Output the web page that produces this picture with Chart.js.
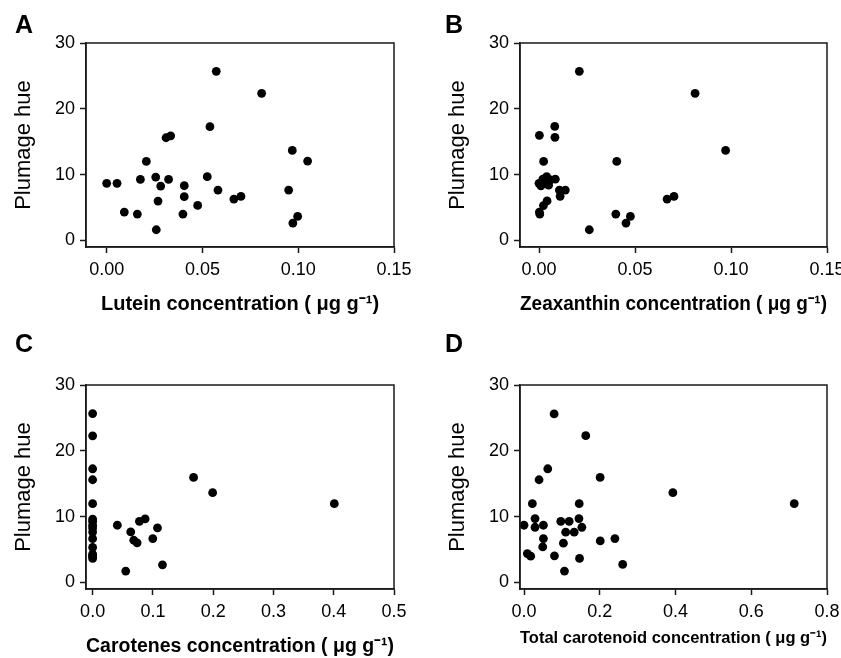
<!DOCTYPE html>
<html>
<head>
<meta charset="utf-8">
<script src="https://cdn.jsdelivr.net/npm/chart.js@4.4.0/dist/chart.umd.min.js"></script>
<style>
  body { margin: 0; background: #fff; width: 841px; height: 658px; position: relative; overflow: hidden; }
  canvas { position: absolute; }
</style>
</head>
<body>
<canvas id="cA" width="434" height="316" style="left:0;top:0"></canvas>
<canvas id="cB" width="407" height="316" style="left:434px;top:0"></canvas>
<canvas id="cC" width="434" height="338" style="left:0;top:320px"></canvas>
<canvas id="cD" width="407" height="338" style="left:434px;top:320px"></canvas>
<script>
// === Data ===
const hueTicks = [0, 10, 20, 30];
const ticksAB = [0, 0.05, 0.10, 0.15];
const ticksC = [0, 0.1, 0.2, 0.3, 0.4, 0.5];
const ticksD = [0, 0.2, 0.4, 0.6, 0.8];

const lutein = [0.000, 0.0054, 0.0092, 0.0160, 0.0176, 0.0207, 0.0256, 0.0259, 0.0268, 0.0282,
  0.0310, 0.0334, 0.0323, 0.0405, 0.0405, 0.0398, 0.0475, 0.0525, 0.0539, 0.0572,
  0.0581, 0.0664, 0.0701, 0.0809, 0.0950, 0.0969, 0.0972, 0.0997, 0.1049];
const hueA = [8.67, 8.67, 4.31, 4.0, 9.27, 12.0, 9.63, 1.62, 5.98, 8.26,
  15.6, 15.9, 9.27, 8.31, 6.64, 4.0, 5.32, 9.68, 17.28, 25.7,
  7.65, 6.28, 6.69, 22.35, 7.65, 13.68, 2.64, 3.65, 12.06];

const zeaxanthin = [0.021, 0.0813, 0.0002, 0.0082, 0.0083, 0.0024, 0.0972, 0.0405, 0.000, 0.001,
  0.002, 0.004, 0.005, 0.003, 0.006, 0.0085, 0.0106, 0.0137, 0.011, 0.0042,
  0.0023, 0.0002, 0.0004, 0.0262, 0.040, 0.0453, 0.0476, 0.0667, 0.0703];
const hueB = [25.7, 22.35, 15.97, 17.33, 15.66, 12.0, 13.68, 12.0, 8.67, 8.3,
  9.3, 9.7, 8.4, 8.9, 9.2, 9.3, 7.65, 7.65, 6.7, 6.0,
  5.3, 4.3, 4.0, 1.62, 4.0, 2.64, 3.65, 6.28, 6.69];

const carotenes = [0, 0, 0, 0, 0, 0, 0, 0, 0, 0, 0, 0, 0, 0, 0, 0,
  0.041, 0.0632, 0.0682, 0.0738, 0.0776, 0.0871, 0.0998, 0.1076, 0.0549, 0.1159,
  0.1675, 0.1991, 0.401];
const hueC = [25.66, 22.27, 17.27, 15.6, 11.97, 9.63, 9.27, 8.67, 8.26, 7.65, 6.64, 5.32, 4.31, 4.0, 4.0, 3.65,
  8.69, 7.68, 6.41, 6.01, 9.29, 9.65, 6.67, 8.28, 1.72, 2.68,
  15.96, 13.64, 11.97];

const totalCarot = [0.0795, 0.163, 0.0627, 0.0397, 0.201, 0.393, 0.022, 0.1457, 0.0291, 0.0,
  0.0291, 0.0512, 0.0512, 0.0494, 0.0088, 0.0177, 0.0804, 0.0971, 0.1192, 0.110,
  0.1325, 0.104, 0.145, 0.1528, 0.1068, 0.1466, 0.2013, 0.240, 0.2605, 0.7135];
const hueD = [25.6, 22.3, 17.27, 15.6, 15.96, 13.64, 11.97, 11.97, 9.7, 8.69,
  8.38, 8.69, 6.67, 5.4, 4.39, 3.99, 4.04, 9.29, 9.29, 7.63,
  7.63, 5.96, 9.7, 8.38, 1.72, 3.64, 6.31, 6.67, 2.73, 11.97];

const FONT = "'Liberation Sans', Arial, Helvetica, sans-serif";
const INK = '#1a1a1a';

// box around the plot area + panel letter
const framePlugin = {
  id: 'frame',
  afterDraw(chart, args, opts) {
    const { ctx, chartArea: a } = chart;
    ctx.save();
    ctx.strokeStyle = INK;
    ctx.lineWidth = 1.5;
    ctx.strokeRect(a.left, a.top, a.right - a.left, a.bottom - a.top);
    ctx.fillStyle = '#000';
    ctx.font = 'bold 25px ' + FONT;
    ctx.textBaseline = 'alphabetic';
    ctx.fillText(opts.letter, opts.lx, opts.ly);
    ctx.restore();
  }
};

function makePanel(cfg) {
  const points = cfg.xs.map((x, i) => ({ x: x, y: cfg.ys[i] }));
  return new Chart(document.getElementById(cfg.id), {
    type: 'scatter',
    data: {
      datasets: [{
        data: points,
        backgroundColor: '#000',
        borderColor: '#000',
        borderWidth: 0,
        pointRadius: 4.4,
        pointHoverRadius: 4.4
      }]
    },
    options: {
      responsive: false,
      animation: false,
      events: [],
      layout: { padding: { top: cfg.padTop, right: cfg.padRight, left: 0, bottom: 0 } },
      plugins: {
        legend: { display: false },
        tooltip: { enabled: false },
        frame: { letter: cfg.letter, lx: cfg.lx, ly: cfg.ly }
      },
      scales: {
        x: {
          type: 'linear',
          min: cfg.xMin,
          max: cfg.xMax,
          afterBuildTicks: s => { s.ticks = cfg.xTicks.map(v => ({ value: v })); },
          afterFit: s => { s.height = 69; s.paddingLeft = 0; s.paddingRight = 0; },
          ticks: {
            autoSkip: false, maxRotation: 0,
            callback: v => Number(v).toFixed(cfg.dec),
            font: { size: 18, family: FONT }, color: '#000', padding: 6
          },
          grid: { drawOnChartArea: false, drawTicks: true, tickLength: 6, tickWidth: 1.5, tickColor: INK },
          border: { display: true, color: INK, width: 1.5 },
          title: {
            display: true, text: cfg.title, color: '#000',
            font: { size: cfg.titleSize, weight: 'bold', family: FONT },
            padding: { top: 0, bottom: cfg.titlePad }
          }
        },
        y: {
          type: 'linear',
          min: -1,
          max: 30,
          afterBuildTicks: s => { s.ticks = hueTicks.map(v => ({ value: v })); },
          afterFit: s => { s.width = 86; },
          ticks: { font: { size: 18, family: FONT }, color: '#000', padding: 5 },
          grid: { drawOnChartArea: false, drawTicks: true, tickLength: 6, tickWidth: 1.5, tickColor: INK },
          border: { display: true, color: INK, width: 1.5 },
          title: {
            display: true, text: 'Plumage hue', color: '#000',
            font: { size: 22, family: FONT },
            padding: { top: 11, bottom: 0 }
          }
        }
      }
    },
    plugins: [framePlugin]
  });
}

// === Build the four panels ===
window.addEventListener('DOMContentLoaded', () => {
  makePanel({ id: 'cA', letter: 'A', lx: 15, ly: 33, xs: lutein, ys: hueA, xTicks: ticksAB, dec: 2,
    xMin: -0.0108, xMax: 0.15, padTop: 43, padRight: 40,
    title: 'Lutein concentration ( \u03bcg g\u207b\u00b9)', titleSize: 20, titlePad: 0 });
  makePanel({ id: 'cB', letter: 'B', lx: 11, ly: 33, xs: zeaxanthin, ys: hueB, xTicks: ticksAB, dec: 2,
    xMin: -0.0099, xMax: 0.15, padTop: 43, padRight: 14,
    title: 'Zeaxanthin concentration ( \u03bcg g\u207b\u00b9)', titleSize: 20, titlePad: 0 });
  makePanel({ id: 'cC', letter: 'C', lx: 15, ly: 32, xs: carotenes, ys: hueC, xTicks: ticksC, dec: 1,
    xMin: -0.011, xMax: 0.5, padTop: 65, padRight: 40,
    title: 'Carotenes concentration ( \u03bcg g\u207b\u00b9)', titleSize: 20, titlePad: 0 });
  makePanel({ id: 'cD', letter: 'D', lx: 11, ly: 32, xs: totalCarot, ys: hueD, xTicks: ticksD, dec: 1,
    xMin: -0.0106, xMax: 0.8, padTop: 65, padRight: 14,
    title: 'Total carotenoid concentration ( \u03bcg g\u207b\u00b9)', titleSize: 17, titlePad: 9 });
});
</script>
</body>
</html>
